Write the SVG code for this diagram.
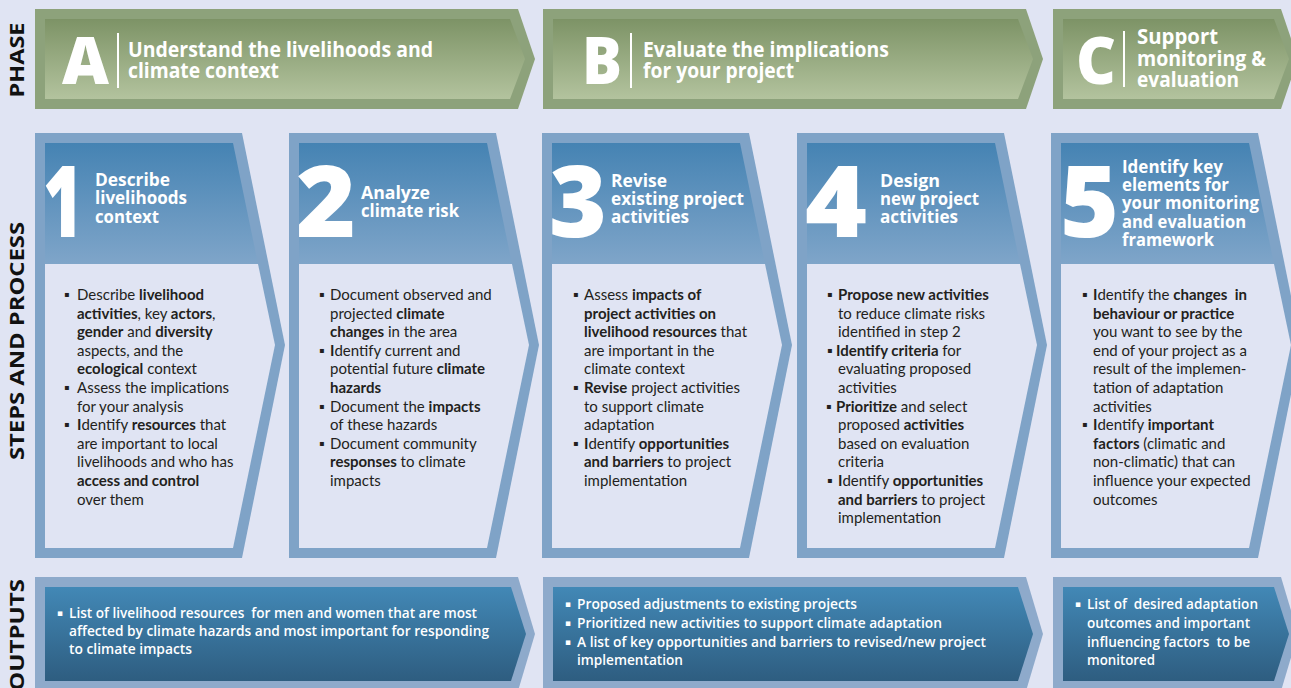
<svg xmlns="http://www.w3.org/2000/svg" width="1291" height="688" viewBox="0 0 1291 688">
<defs>
<linearGradient id="gPhase" x1="0" y1="0" x2="0" y2="1"><stop offset="0" stop-color="#7d9366"/><stop offset="1" stop-color="#b3c39e"/></linearGradient>
<linearGradient id="gHead" x1="0" y1="0" x2="0" y2="1"><stop offset="0" stop-color="#4583b3"/><stop offset="1" stop-color="#7fa5c9"/></linearGradient>
<linearGradient id="gOut" x1="0" y1="0" x2="0" y2="1"><stop offset="0" stop-color="#4288b6"/><stop offset="1" stop-color="#2e5d80"/></linearGradient>
<style>
.bg{fill:#e0e4f3}
.pOut{fill:#8da27b}
.pIn{fill:url(#gPhase)}
.cOut{fill:#7fa3c7}
.cHead{fill:url(#gHead)}
.cBody{fill:#e0e4f3}
.oOut{fill:#8eaacb}
.oIn{fill:url(#gOut)}
.side{font-family:"Open Sans","Liberation Sans",sans-serif;font-weight:700;font-size:20px;fill:#111;text-anchor:middle}
.big{font-family:"Open Sans","Liberation Sans",sans-serif;font-weight:800;fill:#fff}
.ptitle{font-family:"Open Sans","Liberation Sans",sans-serif;font-weight:700;font-size:21px;fill:#fff}
.ctitle{font-family:"Open Sans","Liberation Sans",sans-serif;font-weight:700;font-size:18px;fill:#fff}
.body{font-family:Lato,"Liberation Sans",sans-serif;font-size:15px;fill:#231f20}
.b{font-weight:700}
.bul{font-family:"DejaVu Sans",sans-serif;font-size:8px;fill:#231f20}
.otext{font-family:"Open Sans","Liberation Sans",sans-serif;font-weight:600;font-size:15px;fill:#fff}
.obul{font-family:"DejaVu Sans",sans-serif;font-size:9px;fill:#fff}
.vline{stroke:#fff;stroke-width:2}
</style>
</defs>
<rect class="bg" x="0" y="0" width="1291" height="688"/>

<g id="row-labels">
<text class="side" x="24" y="60" transform="rotate(-90 24 60)" textLength="75" lengthAdjust="spacingAndGlyphs">PHASE</text>
<text class="side" x="24" y="341" transform="rotate(-90 24 341)" textLength="238" lengthAdjust="spacingAndGlyphs">STEPS AND PROCESS</text>
<text class="side" x="24" y="635" transform="rotate(-90 24 635)" textLength="112" lengthAdjust="spacingAndGlyphs">OUTPUTS</text>
</g>

<g id="phase-a">
<polygon class="pOut" points="35,9 518,9 535,59 518,109 35,109"/>
<polygon class="pIn" points="45,19 510,19 525,59 510,99 45,99"/>
<text class="big" x="62" y="84" font-size="66" textLength="47" lengthAdjust="spacingAndGlyphs">A</text>
<line class="vline" x1="118" y1="33" x2="118" y2="88"/>
<text class="ptitle" x="128" y="57" textLength="305" lengthAdjust="spacingAndGlyphs">Understand the livelihoods and</text>
<text class="ptitle" x="128" y="78" textLength="151" lengthAdjust="spacingAndGlyphs">climate context</text>
</g>

<g id="phase-b">
<polygon class="pOut" points="543,9 1026,9 1043,59 1026,109 543,109"/>
<polygon class="pIn" points="553,19 1018,19 1033,59 1018,99 553,99"/>
<text class="big" x="582" y="84" font-size="66" textLength="40" lengthAdjust="spacingAndGlyphs">B</text>
<line class="vline" x1="631" y1="33" x2="631" y2="88"/>
<text class="ptitle" x="643" y="57" textLength="246" lengthAdjust="spacingAndGlyphs">Evaluate the implications</text>
<text class="ptitle" x="643" y="78" textLength="151" lengthAdjust="spacingAndGlyphs">for your project</text>
</g>

<g id="phase-c">
<polygon class="pOut" points="1053,9 1281,9 1298,59 1281,109 1053,109"/>
<polygon class="pIn" points="1063,19 1274,19 1289,59 1274,99 1063,99"/>
<text class="big" x="1076" y="84" font-size="66" textLength="40" lengthAdjust="spacingAndGlyphs">C</text>
<line class="vline" x1="1124" y1="31" x2="1124" y2="87"/>
<text class="ptitle" x="1137" y="44" textLength="81" lengthAdjust="spacingAndGlyphs">Support</text>
<text class="ptitle" x="1137" y="66" textLength="129" lengthAdjust="spacingAndGlyphs">monitoring &amp;</text>
<text class="ptitle" x="1137" y="87" textLength="102" lengthAdjust="spacingAndGlyphs">evaluation</text>
</g>

<g id="step-1">
<polygon class="cOut" points="35,133 242,133 285,345 242,558 35,558"/>
<polygon class="cHead" points="45,143 233,143 258,264 45,264"/>
<polygon class="cBody" points="45,264 258,264 275,345 233,548 45,548"/>
<text class="big" x="43" y="237" font-size="100" textLength="40" lengthAdjust="spacingAndGlyphs">1</text>
<text class="ctitle"><tspan x="95" y="186" textLength="75" lengthAdjust="spacingAndGlyphs">Describe</tspan><tspan x="95" y="204" textLength="92" lengthAdjust="spacingAndGlyphs">livelihoods</tspan><tspan x="95" y="223" textLength="64" lengthAdjust="spacingAndGlyphs">context</tspan></text>
<text class="bul"><tspan x="64" y="297">▪</tspan><tspan x="64" y="390">▪</tspan><tspan x="64" y="427">▪</tspan></text>
<text class="body">
<tspan x="77" y="300">Describe <tspan class="b">livelihood</tspan></tspan>
<tspan x="77" y="319"><tspan class="b">activities</tspan>, key <tspan class="b">actors</tspan>,</tspan>
<tspan x="77" y="337"><tspan class="b">gender</tspan> and <tspan class="b">diversity</tspan></tspan>
<tspan x="77" y="356">aspects, and the</tspan>
<tspan x="77" y="374"><tspan class="b">ecological</tspan> context</tspan>
<tspan x="77" y="393">Assess the implications</tspan>
<tspan x="77" y="412">for your analysis</tspan>
<tspan x="77" y="430"><tspan class="b">I</tspan>dentify <tspan class="b">resources</tspan> that</tspan>
<tspan x="77" y="449">are important to local</tspan>
<tspan x="77" y="467">livelihoods and who has</tspan>
<tspan x="77" y="486"><tspan class="b">access and control</tspan></tspan>
<tspan x="77" y="505">over them</tspan>
</text>
</g>

<g id="step-2">
<polygon class="cOut" points="289,133 496,133 539,345 496,558 289,558"/>
<polygon class="cHead" points="299,143 487,143 512,264 299,264"/>
<polygon class="cBody" points="299,264 512,264 529,345 487,548 299,548"/>
<text class="big" x="296" y="237" font-size="100" textLength="60" lengthAdjust="spacingAndGlyphs">2</text>
<text class="ctitle"><tspan x="361" y="199" textLength="69" lengthAdjust="spacingAndGlyphs">Analyze</tspan><tspan x="361" y="217" textLength="98" lengthAdjust="spacingAndGlyphs">climate risk</tspan></text>
<text class="bul"><tspan x="319" y="297">▪</tspan><tspan x="319" y="353">▪</tspan><tspan x="319" y="409">▪</tspan><tspan x="319" y="446">▪</tspan></text>
<text class="body">
<tspan x="330" y="300">Document observed and</tspan>
<tspan x="330" y="319">projected <tspan class="b">climate</tspan></tspan>
<tspan x="330" y="337"><tspan class="b">changes</tspan> in the area</tspan>
<tspan x="330" y="356"><tspan class="b">I</tspan>dentify current and</tspan>
<tspan x="330" y="374">potential future <tspan class="b">climate</tspan></tspan>
<tspan x="330" y="393"><tspan class="b">hazards</tspan></tspan>
<tspan x="330" y="412">Document the <tspan class="b">impacts</tspan></tspan>
<tspan x="330" y="430">of these hazards</tspan>
<tspan x="330" y="449">Document community</tspan>
<tspan x="330" y="467"><tspan class="b">responses</tspan> to climate</tspan>
<tspan x="330" y="486">impacts</tspan>
</text>
</g>

<g id="step-3">
<polygon class="cOut" points="542,133 749,133 792,345 749,558 542,558"/>
<polygon class="cHead" points="552,143 740,143 765,264 552,264"/>
<polygon class="cBody" points="552,264 765,264 782,345 740,548 552,548"/>
<text class="big" x="549" y="237" font-size="100" textLength="58" lengthAdjust="spacingAndGlyphs">3</text>
<text class="ctitle"><tspan x="611" y="187" textLength="56" lengthAdjust="spacingAndGlyphs">Revise</tspan><tspan x="611" y="205" textLength="133" lengthAdjust="spacingAndGlyphs">existing project</tspan><tspan x="611" y="223" textLength="78" lengthAdjust="spacingAndGlyphs">activities</tspan></text>
<text class="bul"><tspan x="573" y="297">▪</tspan><tspan x="573" y="390">▪</tspan><tspan x="573" y="446">▪</tspan></text>
<text class="body">
<tspan x="584" y="300">Assess <tspan class="b">impacts of</tspan></tspan>
<tspan x="584" y="319"><tspan class="b">project activities on</tspan></tspan>
<tspan x="584" y="337"><tspan class="b">livelihood resources</tspan> that</tspan>
<tspan x="584" y="356">are important in the</tspan>
<tspan x="584" y="374">climate context</tspan>
<tspan x="584" y="393"><tspan class="b">Revise</tspan> project activities</tspan>
<tspan x="584" y="412">to support climate</tspan>
<tspan x="584" y="430">adaptation</tspan>
<tspan x="584" y="449"><tspan class="b">I</tspan>dentify <tspan class="b">opportunities</tspan></tspan>
<tspan x="584" y="467"><tspan class="b">and barriers</tspan> to project</tspan>
<tspan x="584" y="486">implementation</tspan>
</text>
</g>

<g id="step-4">
<polygon class="cOut" points="797,133 1004,133 1047,345 1004,558 797,558"/>
<polygon class="cHead" points="807,143 995,143 1020,264 807,264"/>
<polygon class="cBody" points="807,264 1020,264 1037,345 995,548 807,548"/>
<text class="big" x="805" y="237" font-size="100" textLength="62" lengthAdjust="spacingAndGlyphs">4</text>
<text class="ctitle"><tspan x="880" y="187" textLength="60" lengthAdjust="spacingAndGlyphs">Design</tspan><tspan x="880" y="205" textLength="99" lengthAdjust="spacingAndGlyphs">new project</tspan><tspan x="880" y="223" textLength="78" lengthAdjust="spacingAndGlyphs">activities</tspan></text>
<text class="bul"><tspan x="827" y="297">▪</tspan><tspan x="827" y="353">▪</tspan><tspan x="826" y="409">▪</tspan><tspan x="827" y="483">▪</tspan></text>
<text class="body">
<tspan x="838" y="300"><tspan class="b">Propose new activities</tspan></tspan>
<tspan x="838" y="319">to reduce climate risks</tspan>
<tspan x="838" y="337">identified in step 2</tspan>
<tspan x="836" y="356"><tspan class="b">Identify criteria</tspan> for</tspan>
<tspan x="838" y="374">evaluating proposed</tspan>
<tspan x="838" y="393">activities</tspan>
<tspan x="836" y="412"><tspan class="b">Prioritize</tspan> and select</tspan>
<tspan x="838" y="430">proposed <tspan class="b">activities</tspan></tspan>
<tspan x="838" y="449">based on evaluation</tspan>
<tspan x="838" y="467">criteria</tspan>
<tspan x="838" y="486"><tspan class="b">I</tspan>dentify <tspan class="b">opportunities</tspan></tspan>
<tspan x="838" y="505"><tspan class="b">and barriers</tspan> to project</tspan>
<tspan x="838" y="523">implementation</tspan>
</text>
</g>

<g id="step-5">
<polygon class="cOut" points="1051,133 1258,133 1301,345 1258,558 1051,558"/>
<polygon class="cHead" points="1061,143 1249,143 1274,264 1061,264"/>
<polygon class="cBody" points="1061,264 1274,264 1291,345 1249,548 1061,548"/>
<text class="big" x="1060" y="237" font-size="100" textLength="59" lengthAdjust="spacingAndGlyphs">5</text>
<text class="ctitle"><tspan x="1122" y="173" textLength="101" lengthAdjust="spacingAndGlyphs">Identify key</tspan><tspan x="1122" y="191" textLength="107" lengthAdjust="spacingAndGlyphs">elements for</tspan><tspan x="1122" y="209" textLength="137" lengthAdjust="spacingAndGlyphs">your monitoring</tspan><tspan x="1122" y="228" textLength="124" lengthAdjust="spacingAndGlyphs">and evaluation</tspan><tspan x="1122" y="246" textLength="92" lengthAdjust="spacingAndGlyphs">framework</tspan></text>
<text class="bul"><tspan x="1082" y="297">▪</tspan><tspan x="1082" y="427">▪</tspan></text>
<text class="body">
<tspan x="1093" y="300"><tspan class="b">I</tspan>dentify the <tspan class="b">changes&#160; in</tspan></tspan>
<tspan x="1093" y="319"><tspan class="b">behaviour or practice</tspan></tspan>
<tspan x="1093" y="337">you want to see by the</tspan>
<tspan x="1093" y="356">end of your project as a</tspan>
<tspan x="1093" y="374">result of the implemen-</tspan>
<tspan x="1093" y="393">tation of adaptation</tspan>
<tspan x="1093" y="412">activities</tspan>
<tspan x="1093" y="430"><tspan class="b">I</tspan>dentify <tspan class="b">important</tspan></tspan>
<tspan x="1093" y="449"><tspan class="b">factors</tspan> (climatic and</tspan>
<tspan x="1093" y="467">non-climatic) that can</tspan>
<tspan x="1093" y="486">influence your expected</tspan>
<tspan x="1093" y="505">outcomes</tspan>
</text>
</g>

<g id="output-a">
<polygon class="oOut" points="35,577 518,577 535,634 518,691 35,691"/>
<polygon class="oIn" points="45,587 511,587 526,634 511,681 45,681"/>
<text class="obul"><tspan x="57" y="616">▪</tspan></text>
<text class="otext"><tspan x="69" y="618" textLength="408" lengthAdjust="spacingAndGlyphs">List of livelihood resources&#160; for men and women that are most</tspan><tspan x="69" y="636" textLength="420" lengthAdjust="spacingAndGlyphs">affected by climate hazards and most important for responding</tspan><tspan x="69" y="654" textLength="123" lengthAdjust="spacingAndGlyphs">to climate impacts</tspan></text>
</g>

<g id="output-b">
<polygon class="oOut" points="543,577 1026,577 1043,634 1026,691 543,691"/>
<polygon class="oIn" points="553,587 1018,587 1033,634 1018,681 553,681"/>
<text class="obul"><tspan x="565" y="607">▪</tspan><tspan x="565" y="626">▪</tspan><tspan x="565" y="645">▪</tspan></text>
<text class="otext"><tspan x="577" y="609" textLength="280" lengthAdjust="spacingAndGlyphs">Proposed adjustments to existing projects</tspan><tspan x="577" y="628" textLength="365" lengthAdjust="spacingAndGlyphs">Prioritized new activities to support climate adaptation</tspan><tspan x="577" y="647" textLength="409" lengthAdjust="spacingAndGlyphs">A list of key opportunities and barriers to revised/new project</tspan><tspan x="577" y="665" textLength="106" lengthAdjust="spacingAndGlyphs">implementation</tspan></text>
</g>

<g id="output-c">
<polygon class="oOut" points="1053,577 1281,577 1298,634 1281,691 1053,691"/>
<polygon class="oIn" points="1063,587 1274,587 1289,634 1274,681 1063,681"/>
<text class="obul"><tspan x="1075" y="607">▪</tspan></text>
<text class="otext"><tspan x="1087" y="609" textLength="171" lengthAdjust="spacingAndGlyphs">List of&#160; desired adaptation</tspan><tspan x="1087" y="628" textLength="163" lengthAdjust="spacingAndGlyphs">outcomes and important</tspan><tspan x="1087" y="647" textLength="163" lengthAdjust="spacingAndGlyphs">influencing factors&#160; to be</tspan><tspan x="1087" y="665" textLength="68" lengthAdjust="spacingAndGlyphs">monitored</tspan></text>
</g>
</svg>
